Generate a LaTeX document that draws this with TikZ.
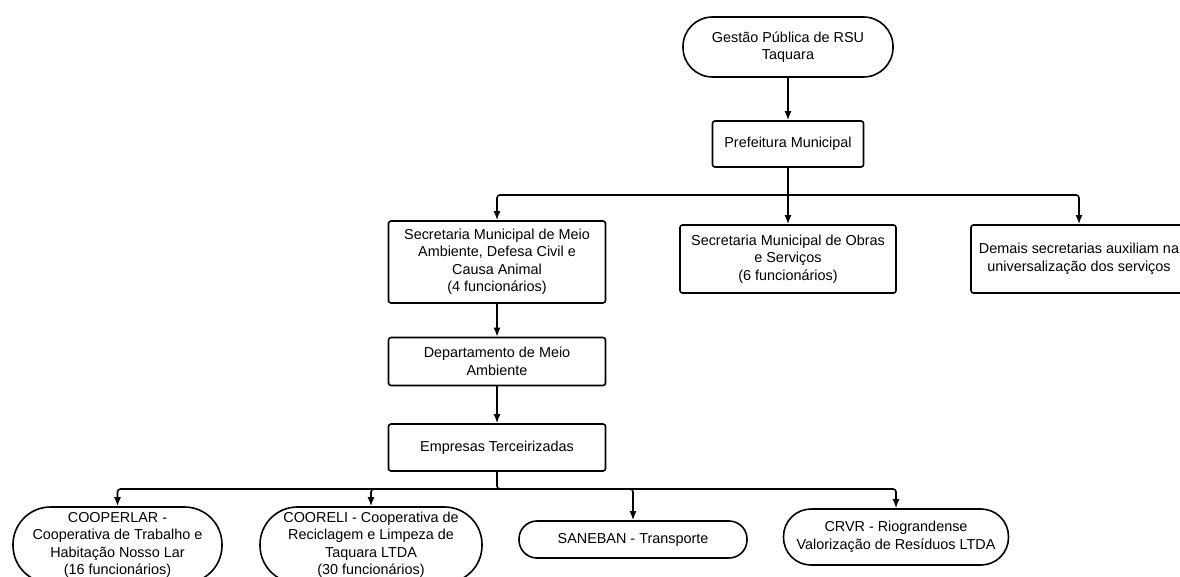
\documentclass[tikz,border=0pt]{standalone}
\usepackage{fontspec}
\setmainfont{Liberation Sans}
\usetikzlibrary{arrows.meta}
\tikzset{
    box/.style={draw, line width=1.6pt, rounded corners=2.5pt, align=center,
        inner sep=0pt, font=\fontsize{14.4}{17.5}\selectfont},
    term/.style={box, rounded corners=#1},
    link/.style={line width=1.6pt, -{Latex[length=9pt,width=7pt]}, rounded corners=3pt},
}

\begin{document}
\begin{tikzpicture}[x=1pt,y=-1pt]
    \useasboundingbox (0,0) rectangle (1180,577);
    \clip (0,0) rectangle (1180,577);
    % top of the chart
    \node[term=29.5pt, minimum width=210pt, minimum height=60pt] (gestao) at (788,47)
        {Gestão Pública de RSU\\Taquara};
    \node[box, minimum width=151pt, minimum height=46pt] (prefeitura) at (788,144)
        {Prefeitura Municipal};
    \coordinate (SplitTop) at (788,195);
    % secretarias
    \node[box, minimum width=217pt, minimum height=82pt] (semma) at (497,262)
        {Secretaria Municipal de Meio\\Ambiente, Defesa Civil e\\Causa Animal\\(4 funcionários)};
    \node[box, minimum width=216pt, minimum height=68pt] (obras) at (788,259)
        {Secretaria Municipal de Obras\\e Serviços\\(6 funcionários)};
    \node[box, minimum width=216pt, minimum height=68pt] (demais) at (1079,259)
        {Demais secretarias auxiliam na\\universalização dos serviços};
    \node[box, minimum width=217pt, minimum height=48pt] (depto) at (497,361.5)
        {Departamento de Meio\\Ambiente};
    \node[box, minimum width=217pt, minimum height=47pt] (empresas) at (497,447.5)
        {Empresas Terceirizadas};
    \coordinate (SplitLow) at (497,489);
    % empresas terceirizadas
    \node[term=37.5pt, minimum width=209pt, minimum height=76pt] (cooperlar) at (117.5,545)
        {COOPERLAR -\\Cooperativa de Trabalho e\\Habitação Nosso Lar\\(16 funcionários)};
    \node[term=37.5pt, minimum width=222pt, minimum height=76pt] (cooreli) at (371,545)
        {COORELI - Cooperativa de\\Reciclagem e Limpeza de\\Taquara LTDA\\(30 funcionários)};
    \node[term=18pt, minimum width=228pt, minimum height=37pt] (saneban) at (633,539.5)
        {SANEBAN - Transporte};
    \node[term=27.5pt, minimum width=225pt, minimum height=56pt] (crvr) at (896,537)
        {CRVR - Riograndense\\Valorização de Resíduos LTDA};

    \draw[link] (gestao.south) -- (prefeitura.north);
    \draw[link] (prefeitura.south) -- (obras.north);
    \draw[link] (SplitTop) -| (semma.north);
    \draw[link] (SplitTop) -| (demais.north);
    \draw[link] (semma.south) -- (depto.north);
    \draw[link] (depto.south) -- (empresas.north);
    \draw[link] (empresas.south) -- (SplitLow) -| (crvr.north);
    \draw[link] (SplitLow) -| (saneban.north);
    \draw[link] (SplitLow) -| (cooreli.north);
    \draw[link] (SplitLow) -| (cooperlar.north);
\end{tikzpicture}
\end{document}
